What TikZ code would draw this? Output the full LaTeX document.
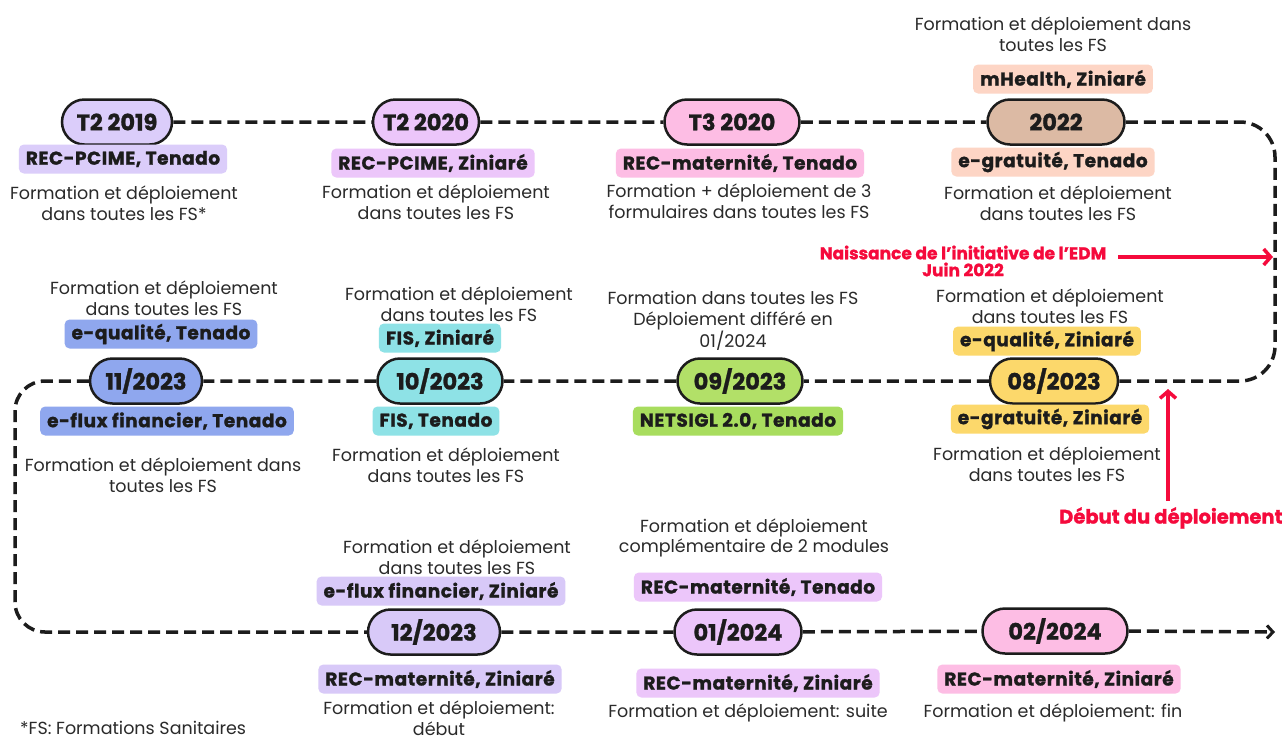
\documentclass[tikz,border=0pt]{standalone}
\usepackage{fontspec}
\setmainfont{Poppins}
\newfontfamily\heavyfont{Poppins}[BoldFeatures={FakeBold=1.2}]
\newfontfamily\tagfont{Poppins}[BoldFeatures={FakeBold=1.3,LetterSpace=3}]
\usetikzlibrary{shapes.misc,arrows.meta}
\definecolor{cLav}{HTML}{DBCDFA}
\definecolor{cMauve}{HTML}{ECC6FA}
\definecolor{cPink}{HTML}{FDBDE4}
\definecolor{cTan}{HTML}{DCBAA4}
\definecolor{cPeach}{HTML}{FDD5C5}
\definecolor{cYel}{HTML}{FCD86B}
\definecolor{cGreen}{HTML}{B2E068}
\definecolor{cGreenL}{HTML}{A8DD5E}
\definecolor{cCyan}{HTML}{8EE2E6}
\definecolor{cBlue}{HTML}{8FA7EE}
\definecolor{cLav2}{HTML}{D8C9F8}
\definecolor{cRed}{HTML}{F50A3C}
\definecolor{cInk}{HTML}{1C1C1C}
\definecolor{cTxt}{HTML}{2A2A2A}
\tikzset{
  pill/.style={rounded rectangle, draw=cInk, line width=2.5pt, inner sep=0pt,
    minimum height=45pt, font=\heavyfont\fontsize{22.5}{23}\selectfont\bfseries, text=cInk},
  tag/.style={rounded corners=5pt, inner xsep=7pt, inner ysep=0pt, minimum height=29pt,
    font=\tagfont\fontsize{18.5}{19}\selectfont\bfseries, text=cInk},
  txt/.style={align=center, inner sep=0pt, font=\fontsize{17.5}{20.5}\selectfont, text=cTxt},
  tline/.style={draw=cInk, line width=3.5pt, dash pattern=on 12pt off 6pt},
  redarrow/.style={draw=cRed, line width=4pt, -{Straight Barb[length=7pt,width=16pt,line width=3.5pt]}},
  redtxt/.style={align=center, inner sep=0pt, text=cRed, font=\heavyfont\fontsize{17}{17}\selectfont\bfseries}
}
\begin{document}
\begin{tikzpicture}[x=1pt,y=-1pt]
\useasboundingbox[fill=white] (0,0) rectangle (1288,740);

% ---------- Row 1 ----------
\node[pill, fill=cLav, minimum width=110pt] (p19) at (117,122) {T2 2019};
\node[tag, fill=cLav] (l19) at (123,159) {REC-PCIME, Tenado};
\node[txt] (t19) at (124,203) {Formation et déploiement\\dans toutes les FS*};

\node[pill, fill=cMauve, minimum width=106pt] (p20) at (426,122) {T2 2020};
\node[tag, fill=cMauve] (l20) at (433,163) {REC-PCIME, Ziniaré};
\node[txt] (t20) at (436,202) {Formation et déploiement\\dans toutes les FS};

\node[pill, fill=cPink, minimum width=135pt] (p320) at (732,122) {T3 2020};
\node[tag, fill=cPink] (l320) at (740,163) {REC-maternité, Tenado};
\node[txt] (t320) at (739,201) {Formation + déploiement de 3\\formulaires dans toutes les FS};

\node[pill, fill=cTan, minimum width=137pt] (p22) at (1056,122) {2022};
\node[tag, fill=cPeach] (l22a) at (1063,79) {mHealth, Ziniaré};
\node[txt] (t22a) at (1053,34) {Formation et déploiement dans\\toutes les FS};
\node[tag, fill=cPeach] (l22b) at (1053,162) {e-gratuité, Tenado};
\node[txt] (t22b) at (1058,203) {Formation et déploiement\\dans toutes les FS};

% ---------- Row 2 ----------
\node[pill, fill=cYel, minimum width=128pt] (p0823) at (1054,381) {08/2023};
\node[tag, fill=cYel] (l0823a) at (1047,341) {e-qualité, Ziniaré};
\node[txt] (t0823a) at (1050,306) {Formation et déploiement\\dans toutes les FS};
\node[tag, fill=cYel] (l0823b) at (1050,419) {e-gratuité, Ziniaré};
\node[txt] (t0823b) at (1047,464) {Formation et déploiement\\dans toutes les FS};

\node[pill, fill=cGreen, minimum width=125pt] (p0923) at (740,381) {09/2023};
\node[tag, fill=cGreenL] (l0923) at (738,421) {NETSIGL 2.0, Tenado};
\node[txt] (t0923) at (733,321) {Formation dans toutes les FS\\Déploiement différé en\\01/2024};

\node[pill, fill=cCyan, minimum width=125pt] (p1023) at (440,381) {10/2023};
\node[tag, fill=cCyan] (l1023a) at (440,338) {FIS, Ziniaré};
\node[txt] (t1023a) at (459,304) {Formation et déploiement\\dans toutes les FS};
\node[tag, fill=cCyan] (l1023b) at (436,421) {FIS, Tenado};
\node[txt] (t1023b) at (446,465) {Formation et déploiement\\dans toutes les FS};

\node[pill, fill=cBlue, minimum width=112pt] (p1123) at (146,381) {11/2023};
\node[tag, fill=cBlue] (l1123a) at (161,334) {e-qualité, Tenado};
\node[txt] (t1123a) at (164,298) {Formation et déploiement\\dans toutes les FS};
\node[tag, fill=cBlue] (l1123b) at (167,421) {e-flux financier, Tenado};
\node[txt] (t1123b) at (163,475) {Formation et déploiement dans\\toutes les FS};

% ---------- Row 3 ----------
\node[pill, fill=cLav2, minimum width=132pt] (p1223) at (434,632) {12/2023};
\node[tag, fill=cLav2] (l1223a) at (441,591) {e-flux financier, Ziniaré};
\node[txt] (t1223a) at (457,557) {Formation et déploiement\\dans toutes les FS};
\node[tag, fill=cLav2] (l1223b) at (440,679) {REC-maternité, Ziniaré};
\node[txt] (t1223b) at (439,718) {Formation et déploiement:\\début};

\node[pill, fill=cMauve, minimum width=127pt] (p0124) at (738,632) {01/2024};
\node[tag, fill=cMauve] (l0124a) at (758,587) {REC-maternité, Tenado};
\node[txt] (t0124a) at (754,538) {Formation et déploiement\\complémentaire de 2 modules};
\node[tag, fill=cMauve] (l0124b) at (758,683) {REC-maternité, Ziniaré};
\node[txt] (t0124b) at (748,713) {Formation et déploiement: suite};

\node[pill, fill=cPink, minimum width=145pt] (p0224) at (1055,631) {02/2024};
\node[tag, fill=cPink] (l0224) at (1059,679) {REC-maternité, Ziniaré};
\node[txt] (t0224) at (1053,713) {Formation et déploiement: fin};

\node[txt, anchor=west] (foot) at (20,728) {*FS: Formations Sanitaires};

% ---------- timeline ----------
\coordinate (cr1) at (1275,122);
\coordinate (cl1) at (15,381);
\coordinate (cl2) at (15,632);
\coordinate (tend) at (1275,632);
\draw[tline] (p19) -- (p20);
\draw[tline] (p20) -- (p320);
\draw[tline] (p320) -- (p22);
\draw[tline, rounded corners=35pt] (p22.east) -- (cr1) |- (p0823.east);
\draw[tline] (p0823) -- (p0923);
\draw[tline] (p0923) -- (p1023);
\draw[tline] (p1023) -- (p1123);
\draw[tline, rounded corners=30pt] (p1123.west) -- (cl1) -- (cl2) -- (p1223.west);
\draw[tline] (p1223) -- (p0124);
\draw[tline] (p0124) -- (p0224);
\draw[tline, -{Straight Barb[length=6pt,width=13pt,line width=3pt]}] (p0224.east) -- (tend);

% ---------- red annotations ----------
\node[redtxt] (naiss) at (963,261) {Naissance de l’initiative de l’EDM\\Juin 2022};
\coordinate (naissEnd) at (1273,257);
\coordinate (naissStart) at (1118,257);
\draw[redarrow] (naissStart) -- (naissEnd);

\node[redtxt, anchor=west, font=\heavyfont\fontsize{19.5}{20}\selectfont\bfseries] (debut) at (1059,518) {Début du déploiement};
\coordinate (debTop) at (1168,389);
\coordinate (debBot) at (1168,501);
\draw[redarrow] (debBot) -- (debTop);
\end{tikzpicture}
\end{document}
